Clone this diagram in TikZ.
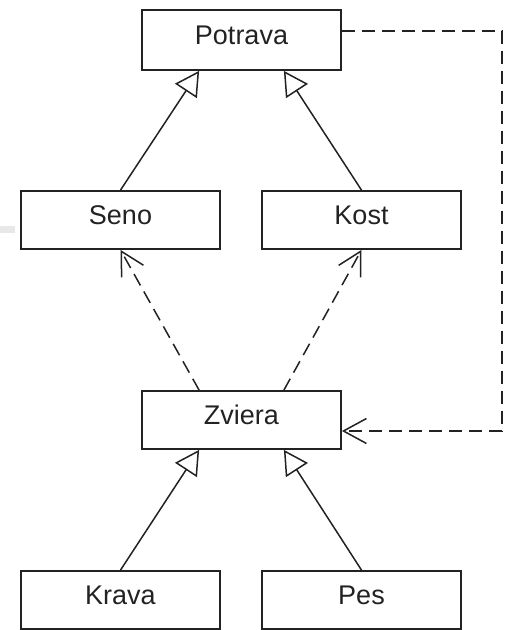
\documentclass[tikz,border=0pt]{standalone}
\usepackage{fontspec}
\setmainfont{Liberation Sans}
\usetikzlibrary{arrows.meta}
\definecolor{ink}{HTML}{222222}
\begin{document}
\begin{tikzpicture}[x=1pt,y=-1pt,
  classbox/.style={draw=ink, line width=1.8pt, rectangle, minimum width=199pt,
    inner sep=0pt, text height=20pt, text depth=11pt, text=ink,
    font=\fontsize{27pt}{30pt}\selectfont},
  inherit/.style={draw=ink, line width=1.5pt,
    -{Triangle[open,length=24pt,width=26pt,line width=1.5pt]}},
  depends/.style={draw=ink, line width=1.5pt, dash pattern=on 13pt off 7pt,
    -{Straight Barb[length=23pt,width=25pt,line width=1.5pt]}}]
  \useasboundingbox (0,0) rectangle (508,630);
  % faint mark at the left edge
  \fill[gray!18] (0,226) rectangle (15,233);

  % classes
  \node[classbox, minimum height=60pt] (potrava) at (241.5,40) {Potrava};
  \node[classbox, minimum height=58pt] (seno)    at (120.5,220) {Seno};
  \node[classbox, minimum height=58pt] (kost)    at (361.5,220) {Kost};
  \node[classbox, minimum height=58pt] (zviera)  at (241.5,420) {Zviera};
  \node[classbox, minimum height=58pt] (krava)   at (120.5,600) {Krava};
  \node[classbox, minimum height=58pt] (pes)     at (361.5,600) {Pes};

  % generalisations
  \draw[inherit] (seno.north) -- ([xshift=58pt]potrava.south west);
  \draw[inherit] (kost.north) -- ([xshift=-58pt]potrava.south east);
  \draw[inherit] (krava.north) -- ([xshift=58pt]zviera.south west);
  \draw[inherit] (pes.north) -- ([xshift=-58pt]zviera.south east);

  % dependencies
  \draw[depends] ([xshift=58pt]zviera.north west) -- (seno.south);
  \draw[depends] ([xshift=-58pt]zviera.north east) -- (kost.south);
  \coordinate (turn1) at (502,31);
  \coordinate (turn2) at (502,431);
  \draw[depends] ([yshift=9pt]potrava.east) -- (turn1) -- (turn2)
    -- ([yshift=-11pt]zviera.east);
\end{tikzpicture}
\end{document}
